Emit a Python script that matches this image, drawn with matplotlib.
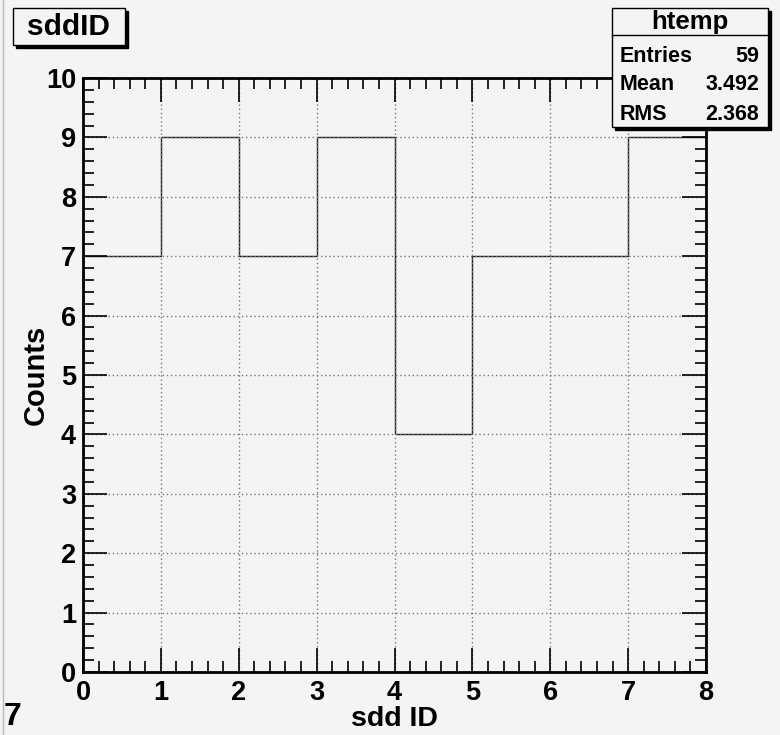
import numpy as np
import matplotlib.pyplot as plt
from matplotlib.ticker import MultipleLocator
from matplotlib.patches import Rectangle

# histogram data (sdd ID 0..7)
bin_edges = [0, 1, 2, 3, 4, 5, 6, 7, 8]
counts = [7, 9, 7, 9, 4, 7, 7, 9]
stats_rows = [("Entries", "59"), ("Mean", "3.492"), ("RMS", "2.368")]

plt.rcParams['font.family'] = ['Liberation Sans', 'DejaVu Sans']
plt.rcParams['font.weight'] = 'bold'

bg = '#f4f4f4'
fig = plt.figure(figsize=(7.8, 7.35), dpi=100, facecolor=bg)
W, H = 780, 735
ax = fig.add_axes([83 / W, 1 - 672 / H, (706 - 83) / W, (672 - 78) / H])
ax.set_facecolor(bg)

ax.stairs(counts, bin_edges, color='#222222', linewidth=1.0)
ax.set_xlim(0, 8)
ax.set_ylim(0, 10)

ax.xaxis.set_major_locator(MultipleLocator(1))
ax.xaxis.set_minor_locator(MultipleLocator(0.2))
ax.yaxis.set_major_locator(MultipleLocator(1))
ax.yaxis.set_minor_locator(MultipleLocator(0.2))
ax.tick_params(which='both', direction='in', top=True, right=True, width=1.2, color='black')
ax.tick_params(which='major', length=17, labelsize=19.5, pad=6)
ax.tick_params(which='minor', length=8)
ax.tick_params(axis='y', which='major', pad=5)
for lab in ax.get_xticklabels() + ax.get_yticklabels():
    lab.set_fontweight('bold')
for s in ax.spines.values():
    s.set_linewidth(2)

ax.grid(True, which='major', linestyle=(0, (1, 2)), color='#777777', linewidth=1)

ax.set_xlabel('sdd ID', fontsize=20.5, fontweight='bold')
ax.set_ylabel('Counts', fontsize=21, fontweight='bold')
ax.xaxis.set_label_coords(0.5, (672 - 719) / 594)
ax.yaxis.set_label_coords((36 - 83) / 623, 0.5)
ax.xaxis.label.set_va('center')
ax.yaxis.label.set_va('center')

# title box
fig.patches.append(Rectangle((16 / W, 1 - 48 / H), 112 / W, 37 / H, transform=fig.transFigure,
                             facecolor='black', edgecolor='black'))
fig.patches.append(Rectangle((13 / W, 1 - 45 / H), 112 / W, 37 / H, transform=fig.transFigure,
                             facecolor=bg, edgecolor='black', linewidth=1))
fig.text(68 / W, 1 - 27 / H, 'sddID', fontsize=21.5, fontweight='bold', ha='center', va='center')

# stats box
x0, y0, bw, bh = 612, 8, 156, 119
fig.patches.append(Rectangle(((x0 + 3) / W, 1 - (y0 + bh + 3) / H), bw / W, bh / H,
                             transform=fig.transFigure, facecolor='black', edgecolor='black'))
fig.patches.append(Rectangle((x0 / W, 1 - (y0 + bh) / H), bw / W, bh / H,
                             transform=fig.transFigure, facecolor=bg, edgecolor='black', linewidth=1))
fig.add_artist(plt.Line2D([x0 / W, (x0 + bw) / W], [1 - 35 / H, 1 - 35 / H], color='black', linewidth=1))
fig.text((x0 + bw / 2) / W, 1 - 22 / H, 'htemp', fontsize=18.5, fontweight='bold', ha='center', va='center')
for i, (name, val) in enumerate(stats_rows):
    yy = 1 - (56 + i * 29) / H
    fig.text(620 / W, yy, name, fontsize=15.5, fontweight='bold', ha='left', va='center')
    fig.text(759 / W, yy, val, fontsize=15.5, fontweight='bold', ha='right', va='center')

# stray label at bottom left
fig.text(4 / W, 1 - 717 / H, '7', fontsize=23, fontweight='bold', ha='left', va='center')

# canvas border
fig.add_artist(plt.Line2D([3 / W, 3 / W], [0, 1], color='#bbbbbb', linewidth=1))

fig.savefig('out.png', dpi=100, facecolor=bg)
